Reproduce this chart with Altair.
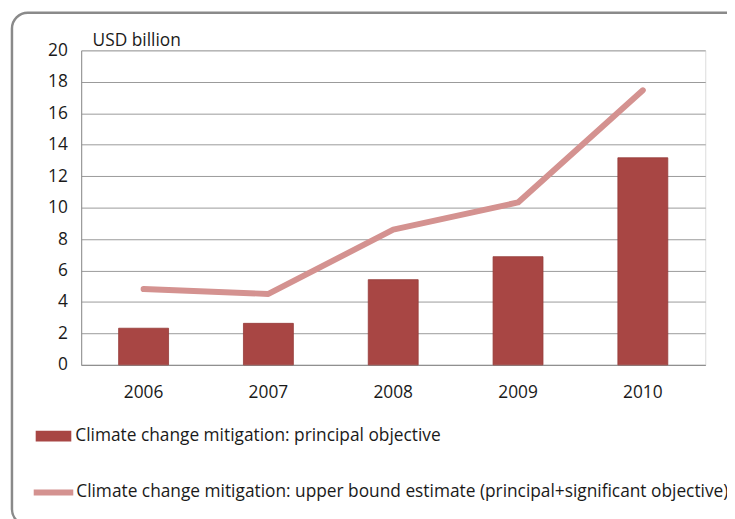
import altair as alt
import pandas as pd

years = ["2006", "2007", "2008", "2009", "2010"]
principal = [2.33, 2.64, 5.42, 6.88, 13.17]
upper_bound = [4.82, 4.51, 8.6, 10.33, 17.46]
bar_label = "Climate change mitigation: principal objective"
line_label = "Climate change mitigation: upper bound estimate (principal+significant objective)"
y_ticks = [0, 2, 4, 6, 8, 10, 12, 14, 16, 18, 20]

df = pd.DataFrame({
    "year": years,
    "principal": principal,
    "upper": upper_bound,
    "bar_series": [bar_label] * len(years),
    "line_series": [line_label] * len(years),
})

FONT = "Open Sans"
FS = 17.5
BAR = "#A84644"
LINE = "#D49290"
TXT = "#1a1a1a"

x_enc = alt.X("year:N", title=None,
              scale=alt.Scale(paddingInner=0.6, paddingOuter=0.3),
              axis=alt.Axis(labelAngle=0, ticks=False, domain=True, domainColor="#8c8c8c",
                            labelPadding=19, labelFontSize=FS, labelFont=FONT,
                            labelColor=TXT, grid=False))

y_axis = alt.Axis(values=y_ticks, tickCount=11, labelOverlap=False, title="USD billion", titleAngle=0,
                  titleAlign="left", titleBaseline="alphabetic",
                  titleX=11, titleY=-5, titleFontSize=FS, titleFont=FONT,
                  titleFontWeight="normal", titleColor=TXT,
                  ticks=False, domainColor="#8c8c8c", labelPadding=14,
                  labelFontSize=FS, labelFont=FONT, labelColor=TXT,
                  gridColor="#9a9a9a", gridWidth=1)
y_scale = alt.Scale(domain=[0, 20], nice=False)

bars = alt.Chart(df).mark_bar(stroke="#953a38", strokeWidth=0.8).encode(
    x=x_enc,
    y=alt.Y("principal:Q", scale=y_scale, axis=y_axis),
    fill=alt.Fill("bar_series:N", scale=alt.Scale(domain=[bar_label], range=[BAR]),
                  legend=alt.Legend(title=None, orient="none", legendX=-46, legendY=372,
                                    symbolType="M-1,-0.3H1V0.3H-1Z", symbolSize=1296,
                                    symbolStrokeWidth=0, symbolFillColor=BAR,
                                    labelFontSize=FS, labelFont=FONT, labelColor=TXT,
                                    labelOffset=4, padding=0, labelLimit=700)),
)

line = alt.Chart(df).mark_line(strokeWidth=6, strokeCap="round", strokeJoin="round").encode(
    x=x_enc,
    y=alt.Y("upper:Q", scale=y_scale, axis=y_axis),
    stroke=alt.Stroke("line_series:N", scale=alt.Scale(domain=[line_label], range=[LINE]),
                      legend=alt.Legend(title=None, orient="none", legendX=-51, legendY=424,
                                        symbolType="stroke", symbolSize=1600,
                                        symbolStrokeWidth=6, symbolStrokeColor=LINE,
                                        labelFontSize=FS, labelFont=FONT, labelColor=TXT,
                                        labelOffset=0, padding=0, labelLimit=700)),
)

frame = alt.Chart(pd.DataFrame({"k": [0]})).mark_rect(
    fill=None, stroke="#8a8a8a", strokeWidth=2.5, cornerRadius=16
).encode(x=alt.value(-70), x2=alt.value(672), y=alt.value(-38), y2=alt.value(480))

chart = alt.layer(frame, bars, line).resolve_scale(fill="independent", stroke="independent").properties(
    width=631, height=318,
    autosize=alt.AutoSizeParams(type="none"),
    padding={"left": 74, "top": 40, "right": 22, "bottom": 153},
).configure_view(fill="#F3E8E8", stroke=None).configure(background="white")

chart.save("out.html", embed_options={"renderer": "svg", "actions": False})
